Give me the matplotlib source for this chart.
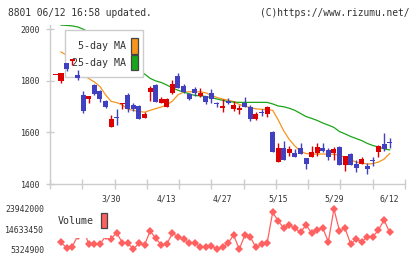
import numpy as np
import matplotlib
matplotlib.use("Agg")
import matplotlib.pyplot as plt
from matplotlib.patches import Rectangle

# ---- data ----
date_labels = ["3/30", "4/13", "4/27", "5/15", "5/29", "6/12"]
label_idx = [10, 20, 30, 40, 50, 60]

opens = [1822, 1799, 1867, 1877, 1822, 1745, 1730, 1783, 1760, 1721,
         1622, 1658, 1711, 1745, 1706, 1702, 1657, 1757, 1783, 1712,
         1699, 1753, 1818, 1781, 1748, 1768, 1741, 1741, 1751, 1710,
         1695, 1722, 1690, 1686, 1712, 1699, 1652, 1679, 1670, 1602,
         1486, 1538, 1519, 1519, 1538, 1500, 1506, 1519, 1538, 1532,
         1519, 1544, 1474, 1516, 1477, 1477, 1471, 1490, 1525, 1555,
         1561]
highs = [1822, 1831, 1870, 1884, 1841, 1760, 1741, 1786, 1764, 1725,
         1667, 1690, 1713, 1752, 1715, 1706, 1680, 1779, 1787, 1736,
         1732, 1803, 1829, 1786, 1751, 1774, 1770, 1741, 1768, 1719,
         1728, 1732, 1722, 1706, 1737, 1706, 1680, 1689, 1702, 1606,
         1558, 1566, 1547, 1534, 1558, 1500, 1547, 1560, 1560, 1538,
         1542, 1548, 1508, 1521, 1493, 1506, 1480, 1503, 1551, 1599,
         1579]
lows = [1822, 1792, 1839, 1861, 1803, 1675, 1715, 1746, 1717, 1694,
        1620, 1627, 1689, 1678, 1683, 1650, 1657, 1722, 1717, 1712,
        1699, 1748, 1770, 1751, 1725, 1741, 1738, 1709, 1712, 1697,
        1680, 1709, 1684, 1671, 1697, 1644, 1648, 1663, 1660, 1525,
        1486, 1493, 1508, 1503, 1516, 1458, 1503, 1508, 1525, 1493,
        1493, 1474, 1452, 1474, 1448, 1477, 1439, 1470, 1503, 1529,
        1541]
closes = [1822, 1831, 1845, 1883, 1809, 1683, 1741, 1748, 1730, 1697,
          1652, 1655, 1712, 1689, 1692, 1650, 1670, 1770, 1719, 1729,
          1728, 1786, 1773, 1757, 1729, 1751, 1751, 1719, 1728, 1708,
          1702, 1712, 1706, 1695, 1697, 1650, 1671, 1676, 1697, 1525,
          1538, 1493, 1534, 1506, 1516, 1477, 1525, 1542, 1529, 1503,
          1534, 1474, 1508, 1474, 1461, 1496, 1458, 1489, 1547, 1534,
          1559]

ma5 = [np.nan, 1911, 1899, 1880, 1853, 1822, 1808, 1795, 1777, 1745,
       1720, 1715, 1706, 1690, 1685, 1681, 1678, 1685, 1692, 1698,
       1706, 1721, 1745, 1756, 1757, 1757, 1757, 1753, 1743, 1735,
       1729, 1724, 1719, 1708, 1701, 1696, 1691, 1689, 1689, 1685,
       1648, 1605, 1572, 1547, 1526, 1518, 1516, 1516, 1516, 1516,
       1515, 1512, 1503, 1493, 1485, 1481, 1477, 1479, 1485, 1496,
       1518]
ma25 = [np.nan, 2015, 2014, 2012, 2008, 1999, 1988, 1975, 1960, 1943,
        1925, 1907, 1890, 1872, 1857, 1841, 1826, 1809, 1799, 1793,
        1783, 1772, 1763, 1756, 1749, 1743, 1741, 1739, 1734, 1729,
        1724, 1719, 1717, 1716, 1716, 1716, 1716, 1716, 1716, 1710,
        1702, 1699, 1693, 1685, 1673, 1661, 1654, 1646, 1636, 1628,
        1619, 1603, 1594, 1584, 1576, 1568, 1557, 1549, 1543, 1536,
        1532]

volume = [np.nan, 8470000, 6060000, 6530000, 11470000, 14700000, 7630000,
          7630000, 7630000, 11400000, 10300000, 12990000, 8370000, 8100000,
          5460000, 8100000, 7310000, 13780000, 10410000, 7310000, 7770000,
          12720000, 11150000, 9940000, 8370000, 8370000, 6530000, 6530000,
          6990000, 5460000, 6250000, 8240000, 11930000, 5324900, 11930000,
          10870000, 6250000, 7630000, 8100000, 22420000, 18400000, 15030000,
          16550000, 15030000, 13180000, 16550000, 12720000, 14240000,
          15030000, 8840000, 23942000, 13780000, 15030000, 7770000,
          10080000, 8840000, 11150000, 11150000, 14240000, 18860000,
          13180000]

# ---- style ----
W, H = 420, 259
RED = "#dd0000"
BLUE = "#4040c0"
ORANGE = "#f7941d"
GREEN = "#1aa51a"
VOLC = "#ff6060"
GRID = "#cccccc"
TXT = "#333333"
MONO = "DejaVu Sans Mono"


def fx(px):
    return px / W


def fy(py):
    return 1 - py / H


x = np.arange(len(opens))
xlim = (-0.975, 62.76)

fig = plt.figure(figsize=(W / 100, H / 100), dpi=100)

# ---- price panel ----
ax = fig.add_axes([fx(50), fy(184), fx(405) - fx(50), fy(25) - fy(184)])
ax.set_xlim(*xlim)
ax.set_ylim(1400, 2015.5)
for s in ["top", "right"]:
    ax.spines[s].set_visible(False)
for s in ["left", "bottom"]:
    ax.spines[s].set_color(GRID)
    ax.spines[s].set_linewidth(1.0)

ax.set_yticks([1400, 1600, 1800, 2000])
ax.tick_params(axis="y", direction="inout", length=5.5, width=1.0,
               color=GRID, labelcolor=TXT, labelsize=5.9, pad=4.4)
ax.set_xticks(label_idx)
ax.set_xticklabels(date_labels)
ax.tick_params(axis="x", which="major", length=0, labelcolor=TXT,
               labelsize=5.9, pad=7.5)
ax.set_xticks(np.linspace(xlim[0], xlim[1], 12), minor=True)
ax.tick_params(axis="x", which="minor", direction="inout", length=6.8,
               width=1.0, color=GRID)
for lab in ax.get_xticklabels() + ax.get_yticklabels():
    lab.set_family(MONO)

ax.plot(x, ma5, color=ORANGE, lw=0.9, zorder=2)
ax.plot(x, ma25, color=GREEN, lw=0.9, zorder=2)

o = np.array(opens, float)
c = np.array(closes, float)
up = c >= o
cols = np.where(up, RED, BLUE)
body_lo = np.minimum(o, c)
body_h = np.maximum(np.abs(c - o), 3.9)
ax.vlines(x, lows, highs, colors=cols, lw=1.0, zorder=4)
ax.bar(x, body_h, bottom=body_lo, width=0.9, color=cols, linewidth=0,
       zorder=5)

# legend box (drawn above MA lines, below candles)
ax.add_patch(Rectangle((fx(65), fy(77.3)), fx(143.3) - fx(65),
                       fy(30) - fy(77.3), transform=fig.transFigure,
                       facecolor="white", edgecolor=GRID, lw=1.0,
                       zorder=3, clip_on=False))
for name, col, ty in [("5-day MA", ORANGE, 46), ("25-day MA", GREEN, 62.5)]:
    ax.text(fx(125.5), fy(ty), name, transform=fig.transFigure, ha="right",
            va="center", fontsize=7.2, family=MONO, color=TXT, zorder=3.5)
    ax.add_patch(Rectangle((fx(131), fy(ty + 7.5)), fx(137.7) - fx(131),
                           fy(ty - 8) - fy(ty + 7.5),
                           transform=fig.transFigure, facecolor=col,
                           edgecolor="#444444", lw=0.9, zorder=3.6,
                           clip_on=False))

# ---- volume panel ----
vol = np.array(volume, float)
vmin, vmax = np.nanmin(vol), np.nanmax(vol)
ax2 = fig.add_axes([fx(50), fy(249.3), fx(405) - fx(50),
                    fy(209) - fy(249.3)])
ax2.set_xlim(*xlim)
ax2.set_ylim(vmin, vmax)
for s in ax2.spines.values():
    s.set_visible(False)
ax2.set_xticks([])
ax2.set_yticks([vmax, (vmin + vmax) / 2, vmin])
ax2.set_yticklabels([f"{int(v)}" for v in [vmax, (vmin + vmax) / 2, vmin]])
ax2.tick_params(axis="y", length=0, labelcolor=TXT, labelsize=5.9, pad=4.0)
for lab in ax2.get_yticklabels():
    lab.set_family(MONO)
ax2.plot(x, vol, color=VOLC, lw=0.9, marker="D", markersize=4.4,
         markeredgewidth=0, clip_on=False, zorder=2)

ax2.add_patch(Rectangle((fx(56), fy(237.5)), fx(109.5) - fx(56),
                        fy(205) - fy(237.5), transform=fig.transFigure,
                        facecolor="white", edgecolor="none", zorder=3,
                        clip_on=False))
ax2.text(fx(58), fy(221.5), "Volume", transform=fig.transFigure, ha="left",
         va="center", fontsize=7.2, family=MONO, color=TXT, zorder=4)
ax2.add_patch(Rectangle((fx(101), fy(228.3)), fx(107.5) - fx(101),
                        fy(213.3) - fy(228.3), transform=fig.transFigure,
                        facecolor=VOLC, edgecolor="#444444", lw=0.9,
                        zorder=4, clip_on=False))

# ---- header ----
fig.text(fx(8), fy(12.5), "8801 06/12 16:58 updated.", ha="left",
         va="center", fontsize=6.9, family=MONO, color=TXT)
fig.text(fx(409.5), fy(12.5), "(C)https://www.rizumu.net/", ha="right",
         va="center", fontsize=6.9, family=MONO, color=TXT)

fig.savefig("out.png", dpi=100)
